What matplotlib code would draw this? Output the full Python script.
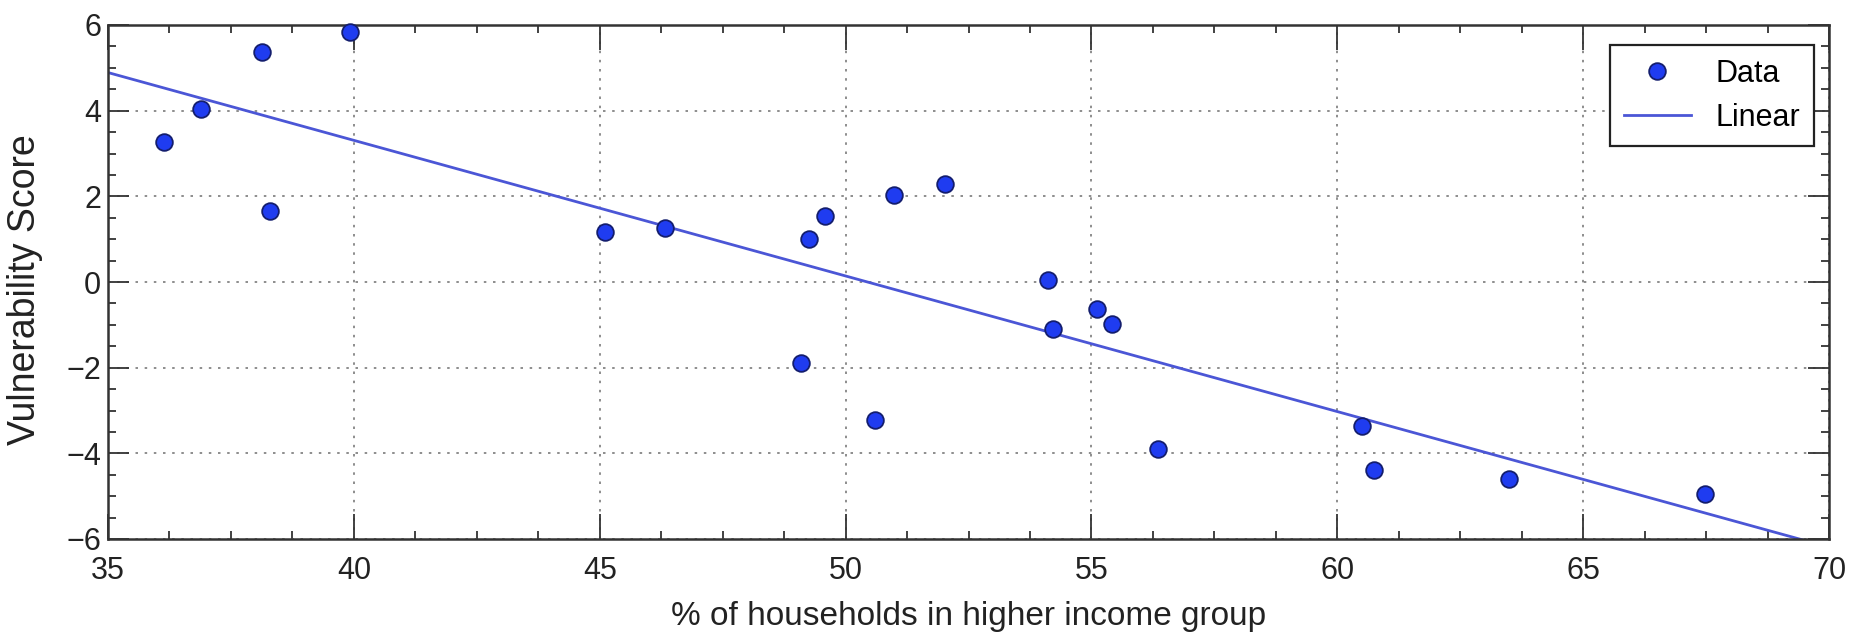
import numpy as np
import matplotlib
matplotlib.use("Agg")
import matplotlib.pyplot as plt
from matplotlib.ticker import MultipleLocator

# values
income_pct = [36.13, 36.89, 38.13, 38.29, 39.93, 45.10, 46.32, 49.10, 49.26, 49.58, 50.60,
              50.98, 52.02, 54.11, 54.21, 55.11, 55.41, 56.35, 60.50, 60.74, 63.49, 67.48]
vuln_score = [3.26, 4.03, 5.36, 1.66, 5.83, 1.16, 1.26, -1.88, 1.01, 1.55, -3.23,
              2.03, 2.29, 0.05, -1.09, -0.64, -0.97, -3.90, -3.36, -4.40, -4.61, -4.94]
# linear fit as drawn
fit_slope = -0.3166
fit_intercept = 4.89 + 0.3166 * 35
fit_x = [35, 70]

plt.rcParams['font.family'] = ['Liberation Sans', 'DejaVu Sans']

fig = plt.figure(figsize=(18.64, 6.33), dpi=100)
ax = fig.add_axes([108 / 1864, 94 / 633, 1721 / 1864, 514 / 633])

fx = np.array(fit_x)
ax.plot(income_pct, vuln_score, 'o', ms=12, mfc='#1f3cf0', mec='#141e6e', mew=1.3,
        label='Data', zorder=3, clip_on=False)
ax.plot(fx, fit_slope * fx + fit_intercept, color='#4b56d6', lw=2, label='Linear', zorder=2)

ax.set_xlim(35, 70)
ax.set_ylim(-6, 6)
ax.xaxis.set_major_locator(MultipleLocator(5))
ax.xaxis.set_minor_locator(MultipleLocator(1.25))
ax.yaxis.set_major_locator(MultipleLocator(2))
ax.yaxis.set_minor_locator(MultipleLocator(0.5))

ax.grid(True, which='major', color='#7a7a7a', linestyle=(0, (1.5, 4)), lw=1.2)
ax.tick_params(which='both', direction='in', top=True, right=True, color='#333333',
               width=1.3, labelsize=22, labelcolor='#222222')
ax.tick_params(axis='x', which='major', length=18, pad=12)
ax.tick_params(axis='y', which='major', length=15, pad=5)
ax.tick_params(which='minor', length=6)
for s in ax.spines.values():
    s.set_linewidth(1.8)
    s.set_color('#333333')

ax.set_xlabel('% of households in higher income group', fontsize=24, color='#222222')
ax.set_ylabel('Vulnerability Score', fontsize=27, color='#222222')
ax.xaxis.set_label_coords(0.5, -0.12)
ax.yaxis.set_label_coords(-0.038, 0.486)

leg = ax.legend(loc='upper right', bbox_to_anchor=(1 - 15 / 1721, 1 - 20 / 514),
                borderaxespad=0, fontsize=22, fancybox=False, framealpha=1,
                edgecolor='#222222', handlelength=2.2, handletextpad=0.8,
                labelspacing=0.45, borderpad=0.45, numpoints=1)
leg.get_frame().set_linewidth(1.6)

fig.savefig('out.png', dpi=100)
